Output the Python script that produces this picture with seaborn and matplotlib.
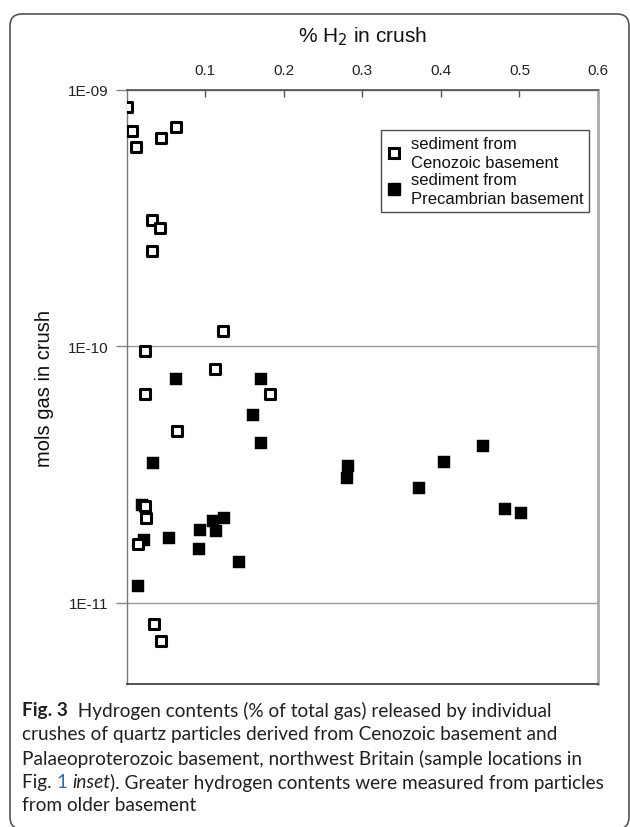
import pandas as pd
import seaborn as sns
import matplotlib
import matplotlib.pyplot as plt
from matplotlib.patches import FancyBboxPatch
from matplotlib.lines import Line2D
from matplotlib.ticker import FixedLocator, NullLocator

matplotlib.use("Agg")

# sediment from Cenozoic basement (open squares)
ceno_h2 = [0.001, 0.007, 0.012, 0.044, 0.063, 0.032, 0.042, 0.032, 0.123,
           0.023, 0.112, 0.023, 0.182, 0.064, 0.023, 0.024, 0.014, 0.035, 0.044]
ceno_mols = [8.6e-10, 6.9e-10, 6.0e-10, 6.5e-10, 7.2e-10, 3.1e-10, 2.9e-10, 2.35e-10, 1.15e-10,
             9.6e-11, 8.2e-11, 6.5e-11, 6.5e-11, 4.7e-11, 2.38e-11, 2.15e-11, 1.69e-11, 8.3e-12, 7.1e-12]

# sediment from Precambrian basement (filled squares)
pre_h2 = [0.063, 0.171, 0.161, 0.171, 0.034, 0.020, 0.110, 0.124, 0.093, 0.114,
          0.054, 0.022, 0.092, 0.143, 0.014, 0.282, 0.281, 0.453, 0.404, 0.372,
          0.482, 0.502]
pre_mols = [7.5e-11, 7.5e-11, 5.4e-11, 4.2e-11, 3.5e-11, 2.4e-11, 2.08e-11, 2.15e-11, 1.93e-11, 1.91e-11,
            1.79e-11, 1.76e-11, 1.63e-11, 1.44e-11, 1.16e-11, 3.42e-11, 3.07e-11, 4.1e-11, 3.55e-11, 2.81e-11,
            2.33e-11, 2.25e-11]

groups = ["sediment from\nCenozoic basement", "sediment from\nPrecambrian basement"]
x_ticks = [0.1, 0.2, 0.3, 0.4, 0.5, 0.6]
x_tick_labels = ["0.1", "0.2", "0.3", "0.4", "0.5", "0.6"]
y_ticks = [1e-11, 1e-10, 1e-9]
y_tick_labels = ["1E-11", "1E-10", "1E-09"]

ink = "#231f20"
caption = [
    [("Fig. 3", "bold", "normal", ink), ("  Hydrogen contents (% of total gas) released by individual", "normal", "normal", ink)],
    [("crushes of quartz particles derived from Cenozoic basement and", "normal", "normal", ink)],
    [("Palaeoproterozoic basement, northwest Britain (sample locations in", "normal", "normal", ink)],
    [("Fig. ", "normal", "normal", ink), ("1", "normal", "normal", "#2f6eb5"), (" ", "normal", "normal", ink),
     ("inset", "normal", "italic", ink), ("). Greater hydrogen contents were measured from particles", "normal", "normal", ink)],
    [("from older basement", "normal", "normal", ink)],
]

df = pd.DataFrame({
    "h2": ceno_h2 + pre_h2,
    "mols": ceno_mols + pre_mols,
    "group": [groups[0]] * len(ceno_h2) + [groups[1]] * len(pre_h2),
})

sns.set_theme(style="white")
plt.rcParams["font.family"] = ["Liberation Sans", "DejaVu Sans"]

fig = plt.figure(figsize=(6.3, 8.28), dpi=100)
ax = fig.add_axes([0.2011, 0.1727, 0.7481, 0.7174])

sns.scatterplot(data=df[df["group"] == groups[1]], x="h2", y="mols", marker="s",
                s=64, color="black", edgecolor="black", linewidth=0.3, ax=ax, zorder=3)
sns.scatterplot(data=df[df["group"] == groups[0]], x="h2", y="mols", marker="s",
                s=44, color="white", edgecolor="black", linewidth=2.2, ax=ax, zorder=4)

ax.set_yscale("log")
ax.set_xlim(0, 0.6)
ax.set_ylim(4.83e-12, 1e-9)

ax.xaxis.tick_top()
ax.xaxis.set_label_position("top")
ax.xaxis.set_major_locator(FixedLocator(x_ticks))
ax.set_xticklabels(x_tick_labels)
ax.yaxis.set_major_locator(FixedLocator(y_ticks))
ax.yaxis.set_minor_locator(NullLocator())
ax.set_yticklabels(y_tick_labels)
ax.tick_params(axis="x", direction="in", length=5, width=1, color="#555555",
               labelsize=11, pad=9, colors="#222222")
ax.tick_params(axis="y", direction="out", length=8, width=1, color="#888888",
               labelsize=11, pad=5, labelcolor="#222222", left=True)

ax.yaxis.grid(True, color="#999999", lw=1)
ax.xaxis.grid(False)

ax.set_xlabel("% H$_2$ in crush", fontsize=15, labelpad=16, color="#111111")
ax.set_ylabel("mols gas in crush", fontsize=14.5, labelpad=10, color="#111111")

ax.spines["top"].set_color("#444444")
ax.spines["top"].set_linewidth(1.1)
ax.spines["left"].set_color("#777777")
ax.spines["left"].set_linewidth(1)
ax.spines["right"].set_color("#aaaaaa")
ax.spines["right"].set_linewidth(2)
ax.spines["bottom"].set_color("#333333")
ax.spines["bottom"].set_linewidth(1.2)

handles = [
    Line2D([], [], ls="none", marker="s", ms=7, mfc="white", mec="black", mew=2.2),
    Line2D([], [], ls="none", marker="s", ms=8, mfc="black", mec="black"),
]
leg = ax.legend(handles, groups, loc="upper right", bbox_to_anchor=(0.981, 0.932),
                frameon=True, fancybox=False, fontsize=12, handlelength=0.8,
                handletextpad=0.6, labelspacing=0.15, borderpad=0.35, borderaxespad=0)
leg.get_frame().set_edgecolor("#222222")
leg.get_frame().set_linewidth(1)
for t in leg.get_texts():
    t.set_linespacing(1.3)
    t.set_color("#111111")

# rounded frame around the whole figure (in inches), bottom edge runs off the page
frame = FancyBboxPatch((0.10, -0.02), 6.19, 8.15,
                       boxstyle="round,pad=0,rounding_size=0.12",
                       transform=fig.dpi_scale_trans, fill=False,
                       edgecolor="#555555", lw=1.2, zorder=0)
fig.patches.append(frame)

# caption
fig.canvas.draw()
renderer = fig.canvas.get_renderer()
cap_font = ["Lato", "DejaVu Sans"]
line_y = [711, 735, 759, 783, 806]
for line, ypx in zip(caption, line_y):
    xpx = 22
    for txt, weight, style, col in line:
        t = fig.text(xpx / 630, 1 - ypx / 828, txt, fontsize=13.7, family=cap_font,
                     fontweight=weight, fontstyle=style, color=col, va="center", ha="left")
        xpx += t.get_window_extent(renderer).width

fig.savefig("out.png", dpi=100)
